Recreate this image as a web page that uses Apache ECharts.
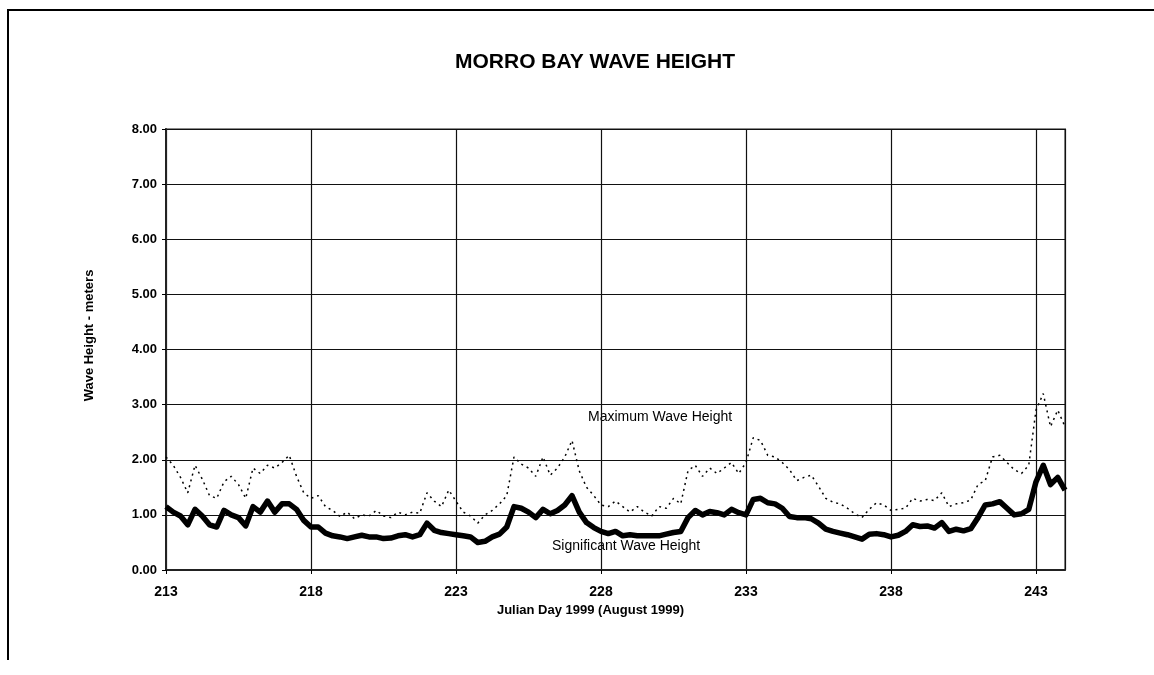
<!DOCTYPE html>
<html>
<head>
<meta charset="utf-8">
<title>Morro Bay Wave Height</title>
<script src="https://cdn.jsdelivr.net/npm/echarts@6/dist/echarts.min.js"></script>
<style>
  html, body { margin: 0; padding: 0; background: #fff; }
  #main { width: 1154px; height: 675px; }
</style>
</head>
<body>
<div id="main"></div>
<script>
// Julian day of first sample and sample spacing (days)
var startDay = 213;
var stepDay = 0.25;

// significant wave height (m), one value every 6 hours, day 213.00 -> 244.00
var sigHeight = [
  1.15, 1.05, 0.98, 0.82, 1.10, 0.98, 0.82, 0.78,   // 213
  1.08, 1.00, 0.95, 0.80, 1.15, 1.05, 1.25, 1.05,   // 215
  1.20, 1.20, 1.10, 0.90, 0.78, 0.78, 0.67, 0.62,   // 217
  0.60, 0.57, 0.60, 0.63, 0.60, 0.60, 0.57, 0.58,   // 219
  0.62, 0.64, 0.60, 0.64, 0.85, 0.72, 0.68, 0.66,   // 221
  0.64, 0.62, 0.60, 0.50, 0.52, 0.60, 0.65, 0.78,   // 223
  1.15, 1.12, 1.05, 0.95, 1.10, 1.02, 1.08, 1.18,   // 225
  1.35, 1.05, 0.86, 0.77, 0.70, 0.66, 0.70, 0.62,   // 227
  0.64, 0.62, 0.62, 0.62, 0.62, 0.65, 0.68, 0.70,   // 229
  0.95, 1.08, 1.00, 1.06, 1.04, 1.00, 1.10, 1.04,   // 231
  1.00, 1.28, 1.30, 1.22, 1.20, 1.12, 0.97, 0.95,   // 233
  0.95, 0.93, 0.85, 0.74, 0.70, 0.67, 0.64, 0.60,   // 235
  0.56, 0.65, 0.66, 0.64, 0.60, 0.63, 0.70, 0.82,   // 237
  0.79, 0.80, 0.76, 0.86, 0.70, 0.74, 0.71, 0.75,   // 239
  0.95, 1.18, 1.20, 1.24, 1.12, 1.00, 1.02, 1.10,   // 241
  1.60, 1.90, 1.55, 1.68, 1.45                      // 243
];

// maximum wave height (m), same time steps
var maxHeight = [
  2.05, 1.90, 1.68, 1.40, 1.90, 1.65, 1.35, 1.30,   // 213
  1.60, 1.70, 1.55, 1.30, 1.85, 1.75, 1.90, 1.85,   // 215
  1.95, 2.08, 1.70, 1.40, 1.30, 1.35, 1.15, 1.08,   // 217
  0.97, 1.05, 0.93, 1.00, 0.98, 1.08, 0.98, 0.95,   // 219
  1.05, 1.00, 1.05, 1.03, 1.40, 1.25, 1.15, 1.45,   // 221
  1.25, 1.05, 0.98, 0.85, 1.00, 1.08, 1.20, 1.35,   // 223
  2.05, 1.92, 1.85, 1.70, 2.05, 1.72, 1.85, 2.05,   // 225
  2.35, 1.80, 1.50, 1.35, 1.18, 1.15, 1.25, 1.15,   // 227
  1.05, 1.15, 1.05, 0.98, 1.15, 1.12, 1.30, 1.20,   // 229
  1.80, 1.90, 1.70, 1.85, 1.75, 1.85, 1.95, 1.75,   // 231
  1.95, 2.40, 2.35, 2.08, 2.05, 1.95, 1.82, 1.62,   // 233
  1.68, 1.72, 1.52, 1.30, 1.23, 1.20, 1.12, 1.02,   // 235
  0.95, 1.10, 1.22, 1.18, 1.08, 1.10, 1.12, 1.30,   // 237
  1.25, 1.28, 1.26, 1.40, 1.15, 1.20, 1.22, 1.27,   // 239
  1.55, 1.62, 2.05, 2.08, 1.95, 1.82, 1.75, 1.90,   // 241
  2.90, 3.20, 2.60, 2.90, 2.60                      // 243
];

var yTicks = [0, 1, 2, 3, 4, 5, 6, 7, 8];
var xTicks = [213, 218, 223, 228, 233, 238, 243];

function pairs(vals) {
  return vals.map(function (v, i) { return [startDay + i * stepDay, v]; });
}

var fontFam = '"Liberation Sans", Arial, sans-serif';
var chart = echarts.init(document.getElementById('main'));

var option = {
  backgroundColor: '#fff',
  animation: false,
  title: {
    text: 'MORRO BAY WAVE HEIGHT',
    left: 590,
    top: 47,
    textAlign: 'center',
    textStyle: { fontFamily: fontFam, fontSize: 21, fontWeight: 'bold', color: '#000' }
  },
  grid: {
    left: 166, right: 89, top: 129, bottom: 105,
    show: true, borderColor: '#8a8a8a', borderWidth: 2
  },
  xAxis: {
    type: 'value',
    min: xTicks[0], max: 244, interval: 5,
    name: 'Julian Day 1999 (August 1999)',
    nameLocation: 'middle',
    nameGap: 27,
    nameTextStyle: {
      fontFamily: fontFam, fontSize: 13, fontWeight: 'bold', color: '#000',
      padding: [0, 50, 0, 0]
    },
    axisLine: { lineStyle: { color: '#222', width: 2 } },
    axisTick: { show: true, length: 4, lineStyle: { color: '#000' } },
    axisLabel: {
      margin: 15, showMaxLabel: false,
      fontFamily: fontFam, fontSize: 14, fontWeight: 'bold', color: '#000'
    },
    splitLine: { show: true, lineStyle: { color: '#111', width: 1.2 } }
  },
  yAxis: {
    type: 'value',
    min: yTicks[0], max: yTicks[yTicks.length - 1], interval: 1,
    name: 'Wave Height - meters',
    nameLocation: 'middle',
    nameGap: 70,
    nameTextStyle: {
      fontFamily: fontFam, fontSize: 13, fontWeight: 'bold', color: '#000',
      padding: [0, 0, 0, 28]
    },
    axisLine: { show: true, lineStyle: { color: '#222', width: 2 } },
    axisTick: { show: true, length: 4, lineStyle: { color: '#000' } },
    axisLabel: {
      margin: 9,
      fontFamily: fontFam, fontSize: 13, fontWeight: 'bold', color: '#000',
      formatter: function (v) { return v.toFixed(2); }
    },
    splitLine: { show: true, lineStyle: { color: '#111', width: 1.2 } }
  },
  series: [
    {
      name: 'Maximum Wave Height',
      type: 'line',
      data: pairs(maxHeight),
      showSymbol: false,
      lineStyle: { color: '#000', width: 1.5, type: [2, 4] }
    },
    {
      name: 'Significant Wave Height',
      type: 'line',
      data: pairs(sigHeight),
      showSymbol: false,
      lineStyle: { color: '#000', width: 5.5, join: 'round' }
    }
  ],
  graphic: [
    {
      type: 'polyline',
      shape: { points: [[8, 660], [8, 10], [1154, 10]] },
      style: { stroke: '#000', lineWidth: 2, fill: null }
    },
    {
      type: 'text', left: 588, top: 410,
      style: { text: 'Maximum Wave Height', font: '14px "Liberation Sans", Arial', fill: '#000' }
    },
    {
      type: 'text', left: 552, top: 539,
      style: { text: 'Significant Wave Height', font: '14px "Liberation Sans", Arial', fill: '#000' }
    }
  ]
};

chart.setOption(option);
window.onresize = function () { chart.resize(); };
</script>
</body>
</html>
